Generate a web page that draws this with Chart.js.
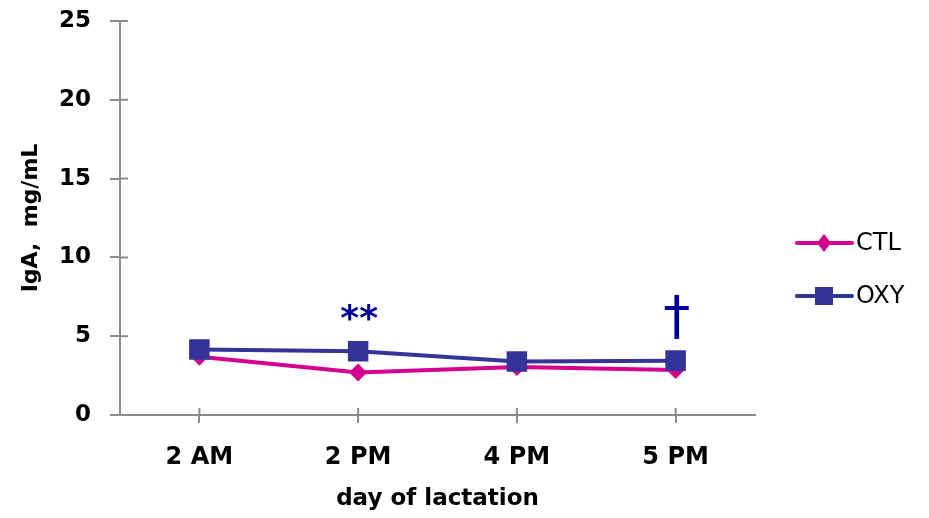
<!DOCTYPE html>
<html>
<head>
<meta charset="utf-8">
<script src="https://cdn.jsdelivr.net/npm/chart.js@4/dist/chart.umd.min.js"></script>
<style>
  html, body { margin: 0; padding: 0; background: #ffffff; }
  #wrap { position: relative; width: 929px; height: 518px; }
</style>
</head>
<body>
<div id="wrap"><canvas id="chart"></canvas></div>
<script>
// ── Données ────────────────────────────────────────────────
const categories = ['2 AM', '2 PM', '4 PM', '5 PM'];
const ctlValues  = [3.7, 2.7, 3.05, 2.85];
const oxyValues  = [4.15, 4.05, 3.4, 3.45];
const yTicks     = [0, 5, 10, 15, 20, 25];
const marks      = ['', '**', '', '\u2020']; // signes au-dessus de OXY

const FONT = "'DejaVu Sans', sans-serif";
const AXIS_GREY = '#8a8a8a';
const CTL_COLOR = '#d4008e';
const OXY_COLOR = '#333399';
const MARK_COLOR = '#000099';

// Petits traits de graduation qui traversent l'axe (partie intérieure)
const crossTicks = {
  id: 'crossTicks',
  afterDraw(chart) {
    const { ctx, chartArea, scales } = chart;
    ctx.save();
    ctx.strokeStyle = AXIS_GREY;
    ctx.lineWidth = 2;
    ctx.beginPath();
    scales.y.ticks.forEach(t => {
      const py = scales.y.getPixelForValue(t.value);
      ctx.moveTo(chartArea.left, py);
      ctx.lineTo(chartArea.left + 8, py);
    });
    categories.forEach((c, i) => {
      const px = scales.x.getPixelForValue(i);
      ctx.moveTo(px, chartArea.bottom);
      ctx.lineTo(px, chartArea.bottom - 7);
    });
    ctx.stroke();
    ctx.restore();
  }
};

// Astérisques / dague au-dessus des points OXY
const sigMarks = {
  id: 'sigMarks',
  afterDatasetsDraw(chart) {
    const { ctx, scales } = chart;
    ctx.save();
    ctx.fillStyle = MARK_COLOR;
    ctx.textAlign = 'center';
    ctx.textBaseline = 'alphabetic';
    marks.forEach((m, i) => {
      if (!m) return;
      const px = scales.x.getPixelForValue(i);
      const py = scales.y.getPixelForValue(oxyValues[i]);
      let centerY;
      if (m === '**') {
        ctx.font = 'bold 36px ' + FONT;
        centerY = py - 39;
      } else {
        ctx.font = '54px ' + FONT;
        centerY = py - 44;
      }
      const mt = ctx.measureText(m);
      const h = mt.actualBoundingBoxAscent + mt.actualBoundingBoxDescent;
      const base = centerY - h / 2 + mt.actualBoundingBoxAscent;
      ctx.fillText(m, px + 1, base);
    });
    ctx.restore();
  }
};

// Légende dessinée à la main : trait + marqueur + texte
const sideLegend = {
  id: 'sideLegend',
  afterDraw(chart) {
    const { ctx } = chart;
    ctx.save();
    chart.data.datasets.forEach((ds, i) => {
      const y = i === 0 ? 243 : 296;
      ctx.strokeStyle = ds.borderColor;
      ctx.lineWidth = 4;
      ctx.lineCap = 'round';
      ctx.beginPath();
      ctx.moveTo(797, y);
      ctx.lineTo(852, y);
      ctx.stroke();
      ctx.fillStyle = ds.pointBackgroundColor;
      ctx.beginPath();
      if (ds.pointStyle === 'rect') {
        ctx.rect(815, y - 9, 18, 18);
      } else {
        ctx.moveTo(824, y - 9);
        ctx.lineTo(831, y);
        ctx.lineTo(824, y + 9);
        ctx.lineTo(817, y);
        ctx.closePath();
      }
      ctx.fill();
      ctx.fillStyle = '#000';
      ctx.font = '24px ' + FONT;
      ctx.textAlign = 'left';
      ctx.textBaseline = 'middle';
      ctx.fillText(ds.label, 856, y + 1);
    });
    ctx.restore();
  }
};

new Chart(document.getElementById('chart'), {
  type: 'line',
  data: {
    labels: categories,
    datasets: [
      {
        label: 'CTL',
        data: ctlValues,
        borderColor: CTL_COLOR,
        backgroundColor: CTL_COLOR,
        pointBackgroundColor: CTL_COLOR,
        pointBorderWidth: 0,
        borderWidth: 4,
        pointStyle: 'rectRot',
        pointRadius: 9,
        tension: 0,
        order: 1
      },
      {
        label: 'OXY',
        data: oxyValues,
        borderColor: OXY_COLOR,
        backgroundColor: OXY_COLOR,
        pointBackgroundColor: OXY_COLOR,
        pointBorderWidth: 0,
        borderWidth: 4,
        pointStyle: 'rect',
        pointRadius: 14.5,
        tension: 0,
        order: 0
      }
    ]
  },
  options: {
    responsive: true,
    maintainAspectRatio: false,
    animation: false,
    layout: { padding: { top: 21, right: 174, left: 0, bottom: 0 } },
    plugins: {
      legend: { display: false },
      tooltip: { enabled: false }
    },
    scales: {
      x: {
        offset: true,
        grid: { display: true, drawOnChartArea: false, drawTicks: true, tickLength: 8, color: AXIS_GREY, lineWidth: 2, offset: false },
        border: { color: AXIS_GREY, width: 2 },
        ticks: { color: '#000', font: { family: FONT, size: 24, weight: 'bold' }, padding: 20, maxRotation: 0 },
        title: { display: true, text: 'day of lactation', color: '#000', font: { family: FONT, size: 23, weight: 'bold' }, padding: { top: 0, bottom: 5 } },
        afterFit(scale) { scale.height = 103; scale.paddingLeft = 0; scale.paddingRight = 0; }
      },
      y: {
        min: 0,
        max: 25,
        afterBuildTicks(scale) { scale.ticks = yTicks.map(v => ({ value: v })); },
        grid: { display: true, drawOnChartArea: false, drawTicks: true, tickLength: 10, color: AXIS_GREY, lineWidth: 2 },
        border: { color: AXIS_GREY, width: 2 },
        ticks: { color: '#000', font: { family: FONT, size: 23, weight: 'bold' }, padding: 19 },
        title: { display: true, text: 'IgA,  mg/mL', color: '#000', font: { family: FONT, size: 22, weight: 'bold' }, padding: { top: 18, bottom: 0 } },
        afterFit(scale) { scale.width = 120; scale.paddingTop = 0; scale.paddingBottom = 0; }
      }
    }
  },
  plugins: [crossTicks, sigMarks, sideLegend]
});
</script>
</body>
</html>
